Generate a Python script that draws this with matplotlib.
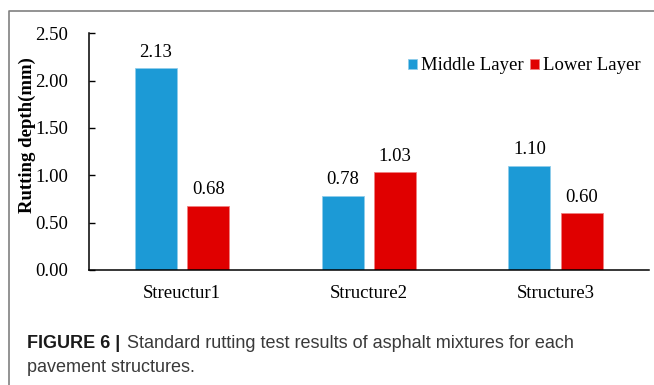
import matplotlib.pyplot as plt
from matplotlib.lines import Line2D
import numpy as np

# Rutting depth (mm) for each pavement structure
structures = ["Streuctur1", "Structure2", "Structure3"]
middle_layer = [2.13, 0.78, 1.10]
lower_layer = [0.68, 1.03, 0.60]
y_ticks = [0.00, 0.50, 1.00, 1.50, 2.00, 2.50]

serif = "Liberation Serif"
sans = "Liberation Sans"
fs = 13.5
blue = "#1C9AD6"
red = "#E00000"

fig = plt.figure(figsize=(6.54, 3.85), dpi=100)
ax = fig.add_axes([88.7 / 654, 1 - 270 / 385, (649 - 88.7) / 654, (270 - 33.3) / 385])

x = np.arange(len(structures))
w = 0.225
off = 0.14
b1 = ax.bar(x - off, middle_layer, w, color=blue, edgecolor="#8FCDEB", linewidth=0.6,
            label="Middle Layer")
b2 = ax.bar(x + off, lower_layer, w, color=red, edgecolor="#F08080", linewidth=0.6,
            label="Lower Layer")

for bars, vals in ((b1, middle_layer), (b2, lower_layer)):
    for rect, v in zip(bars, vals):
        ax.annotate(f"{v:.2f}", (rect.get_x() + rect.get_width() / 2, v),
                    xytext=(0, 8.4), textcoords="offset points",
                    ha="center", va="baseline", fontsize=fs, fontname=serif)

ax.set_xlim(-0.5, 2.5)
ax.set_ylim(0, 2.5)
ax.set_yticks(y_ticks)
ax.set_yticklabels([f"{t:.2f}" for t in y_ticks], fontsize=fs, fontname=serif)
ax.set_xticks(x)
ax.set_xticklabels(structures, fontsize=fs, fontname=serif)
ax.tick_params(axis="y", direction="in", length=4.3, width=1, pad=14.7)
ax.tick_params(axis="x", length=0, pad=11)

for side in ("top", "right"):
    ax.spines[side].set_visible(False)
for side in ("left", "bottom"):
    ax.spines[side].set_linewidth(1.1)

fig.text(27 / 654, 1 - 135 / 385, "Rutting depth(mm)", rotation=90, ha="center",
         va="center", fontsize=fs, fontweight="bold", fontname=serif)

ax.legend(loc="center left", bbox_to_anchor=(408 / 654, 1 - 66 / 385),
          bbox_transform=fig.transFigure, ncol=2, frameon=False,
          prop={"family": serif, "size": fs}, handlelength=0.48, handleheight=0.48,
          handletextpad=0.22, columnspacing=0.35, borderpad=0, borderaxespad=0)

# outer frame lines
fig.add_artist(Line2D([9 / 654, 9 / 654, 1], [0, 1 - 10.5 / 385, 1 - 10.5 / 385],
                      transform=fig.transFigure, color="#808080", lw=1.2))

# caption
cap_fs = 13
fig.text(27 / 654, 1 - 348 / 385, "FIGURE 6 |", fontsize=cap_fs, fontweight="bold",
         fontname=sans, color="#1a1a1a", va="baseline")
fig.text(127 / 654, 1 - 348 / 385,
         "Standard rutting test results of asphalt mixtures for each",
         fontsize=cap_fs, fontname=sans, color="#3a3a3a", va="baseline")
fig.text(27 / 654, 1 - 371.7 / 385, "pavement structures.", fontsize=cap_fs,
         fontname=sans, color="#3a3a3a", va="baseline")

fig.savefig("out.png", dpi=100)
